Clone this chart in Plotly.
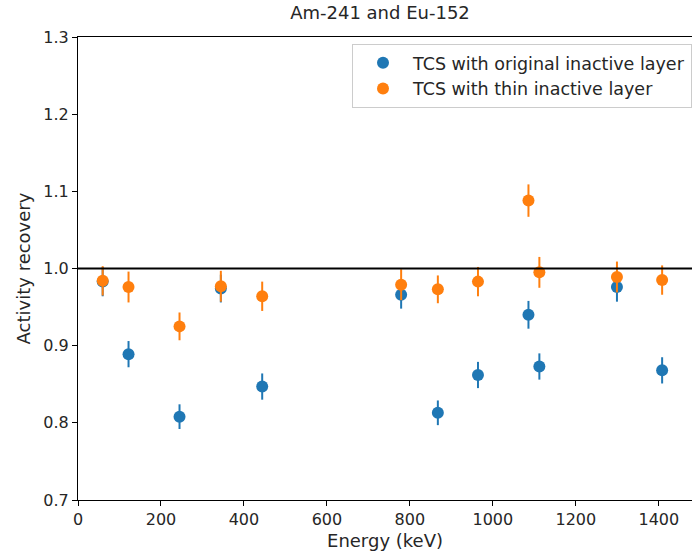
import plotly.graph_objects as go

energy = [59.5, 121.8, 244.7, 344.3, 444.0, 778.9, 867.4, 964.1, 1085.8, 1112.1, 1299.1, 1408.0]
orig_vals = [0.983, 0.889, 0.808, 0.974, 0.847, 0.966, 0.813, 0.862, 0.940, 0.873, 0.976, 0.868]
orig_err = [0.019, 0.017, 0.016, 0.018, 0.017, 0.018, 0.016, 0.017, 0.018, 0.017, 0.019, 0.017]
thin_vals = [0.984, 0.976, 0.925, 0.977, 0.964, 0.979, 0.973, 0.983, 1.088, 0.995, 0.989, 0.985]
thin_err = [0.019, 0.020, 0.018, 0.020, 0.019, 0.020, 0.018, 0.019, 0.021, 0.020, 0.020, 0.019]
series_names = ["TCS with original inactive layer", "TCS with thin inactive layer"]
reference_level = 1.0
x_ticks = [0, 200, 400, 600, 800, 1000, 1200, 1400]
y_ticks = [0.7, 0.8, 0.9, 1.0, 1.1, 1.2, 1.3]

blue = "#1f77b4"
orange = "#ff7f0e"
FONT = "DejaVu Sans"
TXT = "#262626"

fig = go.Figure()
fig.add_trace(go.Scatter(
    x=energy, y=orig_vals, mode="markers", name=series_names[0],
    marker=dict(color=blue, size=12),
    error_y=dict(type="data", array=orig_err, color=blue, thickness=2, width=0),
))
fig.add_trace(go.Scatter(
    x=energy, y=thin_vals, mode="markers", name=series_names[1],
    marker=dict(color=orange, size=12),
    error_y=dict(type="data", array=thin_err, color=orange, thickness=2, width=0),
))
fig.add_shape(type="line", xref="paper", x0=0, x1=1, yref="y", y0=reference_level, y1=reference_level,
              line=dict(color="black", width=2))

fig.update_layout(
    width=694, height=554, autosize=False,
    margin=dict(l=78, r=2, t=37, b=54),
    paper_bgcolor="white", plot_bgcolor="white",
    font=dict(family=FONT, size=16, color=TXT),
    title=dict(text="Am-241 and Eu-152", x=(78 + 302) / 694, xanchor="center", y=1 - 13 / 554, yanchor="middle",
               font=dict(size=18, family=FONT, color=TXT)),
    showlegend=True,
    legend=dict(x=1.0, xanchor="right", y=0.985, yanchor="top",
                bgcolor="rgba(255,255,255,0.8)", bordercolor="#cccccc", borderwidth=1,
                font=dict(size=17.5, family=FONT, color=TXT), itemsizing="constant",
                itemwidth=50, tracegroupgap=0),
)
fig.update_xaxes(
    range=[0, 1480], tickvals=x_ticks, ticktext=[str(v) for v in x_ticks],
    showgrid=False, zeroline=False, showline=True, linecolor="black", linewidth=1, mirror=True,
    ticks="outside", ticklen=5, tickcolor="black", automargin=False,
    tickfont=dict(size=16, color=TXT),
    title=dict(text="Energy (keV)", standoff=6, font=dict(size=18, color=TXT)),
)
fig.update_yaxes(
    range=[0.7, 1.3], tickvals=y_ticks, ticktext=[f"{v:.1f}" for v in y_ticks],
    showgrid=False, zeroline=False, showline=True, linecolor="black", linewidth=1, mirror=False,
    ticks="outside", ticklen=5, tickcolor="black", automargin=False,
    tickfont=dict(size=16, color=TXT),
    title=dict(text="Activity recovery", standoff=8, font=dict(size=18, color=TXT)),
)

fig.write_html(
    "out.html",
    config={"responsive": False, "displayModeBar": False},
    post_script=["document.body.style.margin='0';document.body.style.overflow='hidden';"],
)
